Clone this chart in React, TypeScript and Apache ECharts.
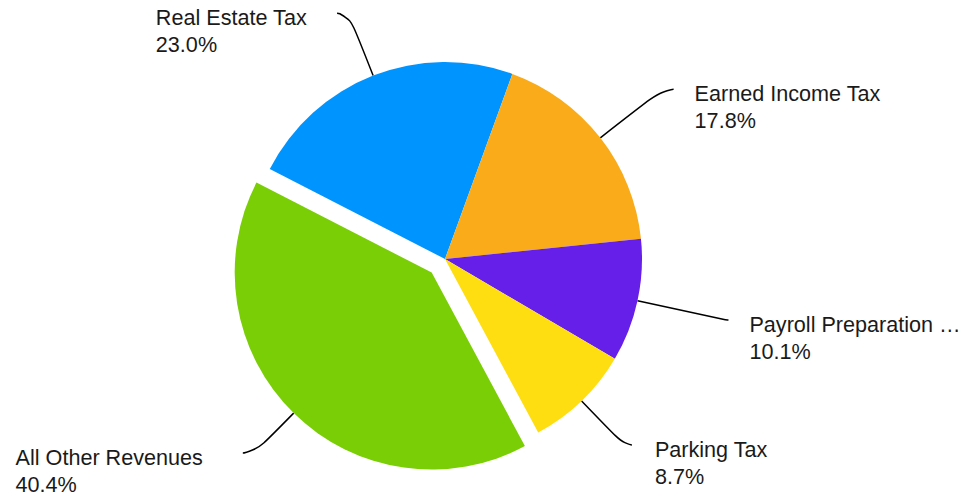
import React, { useEffect, useRef } from 'react';
import * as echarts from 'echarts';

// Data
const categories = [
  'Real Estate Tax',
  'Earned Income Tax',
  'Payroll Preparation Tax',
  'Parking Tax',
  'All Other Revenues',
];
const shares = [23.0, 17.8, 10.1, 8.7, 40.4];
const selectedCategory = 'All Other Revenues';

// Styles (kept apart from the data)
const sliceColors = ['#0094ff', '#f9ab1a', '#661fe8', '#fedd11', '#7ace06'];
const leaderLength = [67, 79, 90, 61, 56];
const leaderLength2 = [11.6, 11, 3, 8, 11.6];
const labelGap = [30, 21, 21, 23, 40];

const FONT = 'Liberation Sans, Arial, sans-serif';
const FONT_SIZE = 21.6;

export default function App() {
  const ref = useRef<HTMLDivElement>(null);
  useEffect(() => {
    const chart = echarts.init(ref.current as HTMLDivElement, null, { renderer: 'svg' });
    chart.setOption({
      animation: false,
      series: [
        {
          type: 'pie',
          center: [445, 259],
          radius: 197,
          startAngle: 152.8,
          clockwise: true,
          selectedMode: 'single',
          selectedOffset: 19,
          emphasis: { disabled: true },
          label: {
            show: true,
            bleedMargin: -4,
            formatter: (p: any) => `{n|${p.name}}\n{n|${Number(p.value).toFixed(1)}%}`,
            fontFamily: FONT,
            fontSize: FONT_SIZE,
            lineHeight: 27,
            color: '#1a1a1a',
            padding: [0, 0, -36, 0],
            ellipsis: ' …',
            rich: {
              n: {
                align: 'left',
                fontFamily: FONT,
                fontSize: FONT_SIZE,
                lineHeight: 27,
                color: '#1a1a1a',
              },
            },
          },
          labelLine: {
            show: true,
            smooth: 0.8,
            lineStyle: { color: '#000', width: 1.5 },
          },
          data: categories.map((name, i) => ({
            name,
            value: shares[i],
            selected: name === selectedCategory,
            itemStyle: { color: sliceColors[i] },
            select: { itemStyle: { color: sliceColors[i] } },
            label: { distanceToLabelLine: labelGap[i] },
            labelLine: { length: leaderLength[i], length2: leaderLength2[i] },
          })),
        },
      ],
    });
    return () => chart.dispose();
  }, []);
  return (
    <div
      ref={ref}
      style={{ position: 'absolute', left: 0, top: 0, width: 967, height: 500 }}
    />
  );
}
